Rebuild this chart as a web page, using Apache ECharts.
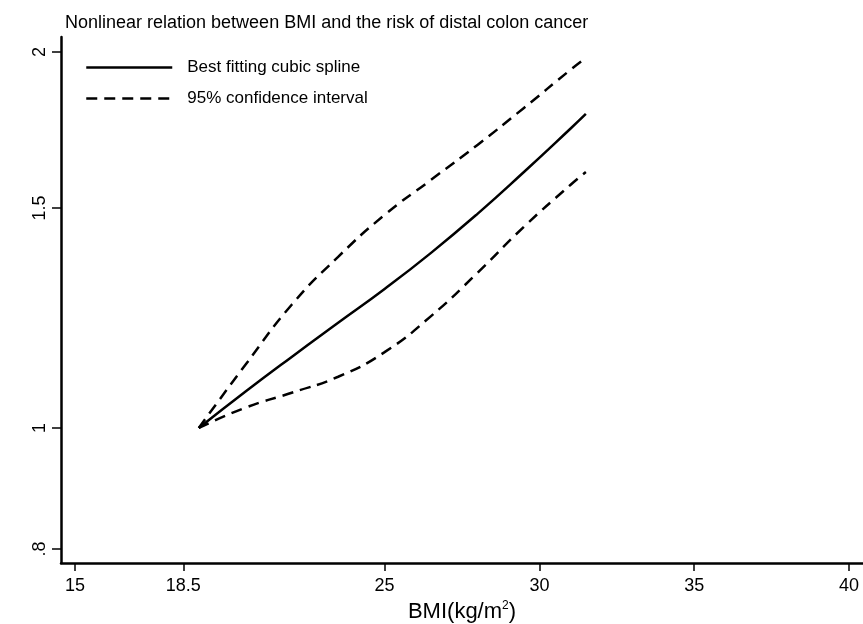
<!DOCTYPE html>
<html>
<head>
<meta charset="utf-8">
<script src="https://cdn.jsdelivr.net/npm/echarts@6/dist/echarts.min.js"></script>
<style>html,body{margin:0;padding:0;background:#fff}#c{width:863px;height:624px}</style>
</head>
<body>
<div id="c"></div>
<script>
const bmi = [19, 20.5, 22, 23.5, 25, 26.5, 28, 29.5, 31, 31.5];
const spline = [1.0, 1.069, 1.140, 1.214, 1.292, 1.381, 1.484, 1.603, 1.736, 1.784];
const upperCI = [1.0, 1.123, 1.255, 1.371, 1.481, 1.580, 1.685, 1.804, 1.935, 1.978];
const lowerCI = [1.0, 1.038, 1.067, 1.099, 1.150, 1.229, 1.331, 1.449, 1.565, 1.603];
const xTicks = [15, 18.5, 25, 30, 35, 40];
const yTicks = [0.8, 1, 1.5, 2];
const titleText = 'Nonlinear relation between BMI and the risk of distal colon cancer';
const nameSpline = 'Best fitting cubic spline';
const nameCI = '95% confidence interval';

const pair = (xs, ys) => xs.map((x, i) => [x, ys[i]]);
const font = 'Liberation Sans, Arial, sans-serif';

const chart = echarts.init(document.getElementById('c'), null, {renderer: 'canvas'});
chart.setOption({
  animation: false,
  backgroundColor: '#fff',
  title: {
    text: titleText, left: 60, top: 9,
    textStyle: {fontFamily: font, fontSize: 18, fontWeight: 'normal', color: '#000'}
  },
  legend: {
    data: [nameSpline, nameCI],
    orient: 'vertical', left: 80, top: 54, itemWidth: 86, itemHeight: 14, itemGap: 14,
    itemStyle: {color: 'transparent', borderWidth: 0, opacity: 0},
    lineStyle: {width: 2.5},
    textStyle: {fontFamily: font, fontSize: 17, color: '#000', padding: [0, 0, 0, 10]}
  },
  grid: {left: 61, right: 0, top: 37, bottom: 61, containLabel: false, outerBoundsMode: 'none'},
  xAxis: {
    type: 'value', min: 14.55, max: 40.45,
    name: '{a|BMI(kg/m}{s|2}{a|)}', nameLocation: 'middle', nameGap: 28,
    nameTextStyle: {rich: {
      a: {fontFamily: font, fontSize: 22, color: '#000'},
      s: {fontFamily: font, fontSize: 12, color: '#000', verticalAlign: 'top', padding: [0, 0, 12, 0]}
    }},
    axisLine: {onZero: false, lineStyle: {color: '#000', width: 2.5}},
    axisTick: {customValues: xTicks, length: 8, lineStyle: {color: '#000', width: 1.5}},
    axisLabel: {customValues: xTicks, fontFamily: font, fontSize: 18, color: '#000', margin: 14,
      formatter: v => String(v)},
    splitLine: {show: false}
  },
  yAxis: {
    type: 'log', min: 0.7796, max: 2.056,
    axisLine: {show: true, lineStyle: {color: '#000', width: 2.5}},
    axisTick: {show: true, customValues: yTicks, length: 9, lineStyle: {color: '#000', width: 1.5}},
    axisLabel: {customValues: yTicks, fontFamily: font, fontSize: 18, color: '#000', rotate: 90, margin: 12,
      formatter: v => (v < 1 ? String(v).replace(/^0/, '') : String(v))},
    splitLine: {show: false}
  },
  series: [
    {name: nameSpline, type: 'line', data: pair(bmi, spline), smooth: true, symbol: 'none',
      lineStyle: {color: '#000', width: 2.5, type: 'solid'}, itemStyle: {color: '#000'}},
    {name: nameCI, type: 'line', data: pair(bmi, upperCI), smooth: true, symbol: 'none',
      lineStyle: {color: '#000', width: 2.5, type: [11, 7]}, itemStyle: {color: '#000'}},
    {name: nameCI, type: 'line', data: pair(bmi, lowerCI), smooth: true, symbol: 'none',
      lineStyle: {color: '#000', width: 2.5, type: [11, 7]}, itemStyle: {color: '#000'}}
  ]
});
</script>
</body>
</html>
